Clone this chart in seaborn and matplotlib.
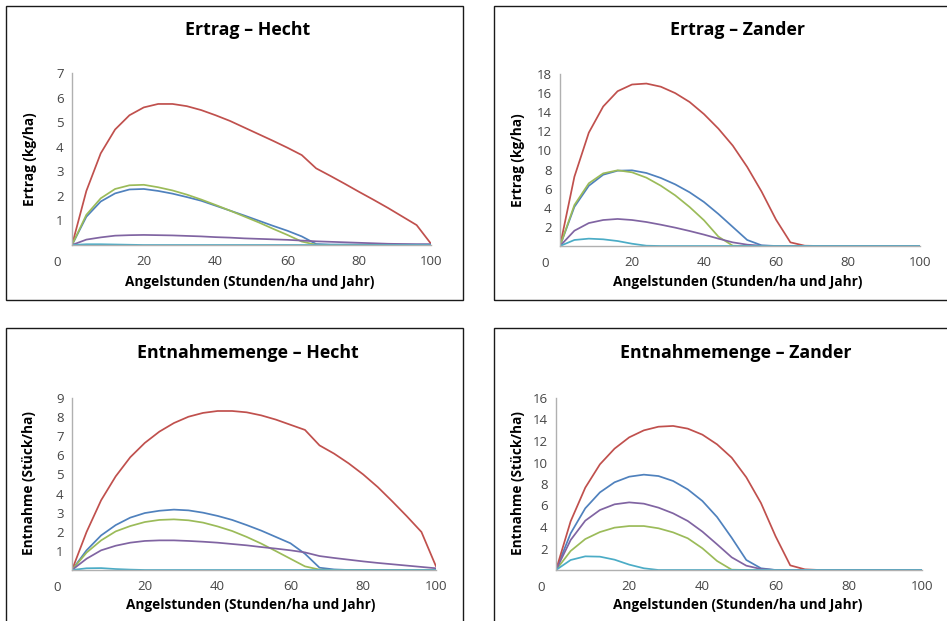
import numpy as np
import pandas as pd
import matplotlib
matplotlib.use("Agg")
import matplotlib.pyplot as plt
import matplotlib.transforms as mtransforms
from matplotlib.patches import Rectangle
import seaborn as sns

# ---- data -------------------------------------------------------------
hours = list(range(0, 101, 4))  # Angelstunden

series_names = ["S1", "S2", "S3", "S4", "S5"]
series_colors = ["#4F81BD", "#C0504D", "#9BBB59", "#8064A2", "#4BACC6"]

# Ertrag - Hecht (kg/ha)
eh_blue = [0, 1.15, 1.77, 2.10, 2.26, 2.28, 2.20, 2.09, 1.95, 1.80, 1.60, 1.40, 1.20,
           0.99, 0.78, 0.58, 0.35, 0.04, 0.02, 0.02, 0.02, 0.02, 0.02, 0.02, 0.02, 0.02]
eh_red = [0, 2.20, 3.73, 4.70, 5.28, 5.60, 5.74, 5.74, 5.65, 5.49, 5.28, 5.05, 4.78,
          4.51, 4.24, 3.96, 3.66, 3.12, 2.81, 2.49, 2.16, 1.84, 1.51, 1.16, 0.81, 0.05]
eh_green = [0, 1.23, 1.90, 2.28, 2.43, 2.45, 2.35, 2.22, 2.05, 1.85, 1.63, 1.40, 1.16,
            0.92, 0.66, 0.41, 0.14, 0.01, 0, 0, 0, 0, 0, 0, 0, 0]
eh_purple = [0, 0.22, 0.31, 0.38, 0.40, 0.41, 0.40, 0.39, 0.37, 0.35, 0.32, 0.30, 0.27,
             0.25, 0.23, 0.21, 0.18, 0.15, 0.13, 0.11, 0.09, 0.07, 0.05, 0.04, 0.03, 0.03]
eh_cyan = [0, 0.03, 0.03, 0.02, 0.01, 0, 0, 0, 0, 0, 0, 0, 0,
           0, 0, 0, 0, 0, 0, 0, 0, 0, 0, 0, 0, 0]

# Ertrag - Zander (kg/ha)
ez_blue = [0, 4.10, 6.30, 7.46, 7.88, 7.92, 7.64, 7.12, 6.45, 5.62, 4.60, 3.35, 1.99,
           0.63, 0.07, 0, 0, 0, 0, 0, 0, 0, 0, 0, 0, 0]
ez_red = [0, 7.25, 11.86, 14.60, 16.20, 16.90, 17.00, 16.67, 16.00, 15.07, 13.80, 12.28, 10.50,
          8.27, 5.69, 2.76, 0.38, 0.03, 0, 0, 0, 0, 0, 0, 0, 0]
ez_green = [0, 4.29, 6.56, 7.60, 7.92, 7.71, 7.15, 6.31, 5.30, 4.08, 2.69, 0.98, 0.03,
            0, 0, 0, 0, 0, 0, 0, 0, 0, 0, 0, 0, 0]
ez_purple = [0, 1.60, 2.40, 2.72, 2.83, 2.72, 2.51, 2.23, 1.92, 1.57, 1.19, 0.77, 0.38,
             0.14, 0.03, 0, 0, 0, 0, 0, 0, 0, 0, 0, 0, 0]
ez_cyan = [0, 0.63, 0.77, 0.70, 0.52, 0.24, 0.03, 0, 0, 0, 0, 0, 0,
           0, 0, 0, 0, 0, 0, 0, 0, 0, 0, 0, 0, 0]

# Entnahmemenge - Hecht (Stück/ha)
nh_blue = [0, 1.03, 1.81, 2.35, 2.74, 2.98, 3.10, 3.16, 3.12, 3.00, 2.83, 2.62, 2.35,
           2.06, 1.73, 1.40, 0.85, 0.12, 0.03, 0, 0, 0, 0, 0, 0, 0]
nh_red = [0, 1.99, 3.65, 4.90, 5.90, 6.65, 7.24, 7.69, 8.02, 8.22, 8.32, 8.32, 8.25,
          8.09, 7.87, 7.60, 7.33, 6.52, 6.09, 5.58, 5.00, 4.34, 3.59, 2.81, 1.99, 0.19]
nh_green = [0, 0.91, 1.55, 2.02, 2.30, 2.51, 2.62, 2.65, 2.60, 2.48, 2.28, 2.04, 1.73,
            1.38, 0.99, 0.59, 0.19, 0.02, 0, 0, 0, 0, 0, 0, 0, 0]
nh_purple = [0, 0.59, 1.03, 1.27, 1.43, 1.52, 1.55, 1.55, 1.52, 1.48, 1.43, 1.36, 1.29,
             1.20, 1.12, 1.03, 0.92, 0.73, 0.63, 0.54, 0.45, 0.37, 0.30, 0.23, 0.16, 0.09]
nh_cyan = [0, 0.09, 0.10, 0.05, 0.02, 0, 0, 0, 0, 0, 0, 0, 0,
           0, 0, 0, 0, 0, 0, 0, 0, 0, 0, 0, 0, 0]

# Entnahmemenge - Zander (Stück/ha)
nz_blue = [0, 3.41, 5.74, 7.22, 8.16, 8.68, 8.87, 8.74, 8.28, 7.50, 6.42, 4.93, 3.00,
           0.93, 0.16, 0, 0, 0, 0, 0, 0, 0, 0, 0, 0, 0]
nz_red = [0, 4.53, 7.66, 9.83, 11.29, 12.34, 12.99, 13.33, 13.40, 13.15, 12.59, 11.69, 10.45,
          8.62, 6.23, 3.13, 0.43, 0.06, 0, 0, 0, 0, 0, 0, 0, 0]
nz_green = [0, 1.77, 2.88, 3.53, 3.94, 4.09, 4.09, 3.88, 3.50, 2.95, 2.02, 0.84, 0.03,
            0, 0, 0, 0, 0, 0, 0, 0, 0, 0, 0, 0, 0]
nz_purple = [0, 2.79, 4.59, 5.58, 6.11, 6.29, 6.17, 5.80, 5.27, 4.56, 3.57, 2.39, 1.18,
             0.40, 0.09, 0, 0, 0, 0, 0, 0, 0, 0, 0, 0, 0]
nz_cyan = [0, 0.93, 1.27, 1.24, 0.96, 0.50, 0.16, 0, 0, 0, 0, 0, 0,
           0, 0, 0, 0, 0, 0, 0, 0, 0, 0, 0, 0, 0]

titles = ["Ertrag – Hecht", "Ertrag – Zander", "Entnahmemenge – Hecht", "Entnahmemenge – Zander"]
ylabels = ["Ertrag (kg/ha)", "Ertrag (kg/ha)", "Entnahme (Stück/ha)", "Entnahme (Stück/ha)"]
xlabel = "Angelstunden (Stunden/ha und Jahr)"
ymax = [7, 18, 9, 16]
ystep = [1, 2, 1, 2]
xtick_vals = [0, 20, 40, 60, 80, 100]

panels = [
    [eh_blue, eh_red, eh_green, eh_purple, eh_cyan],
    [ez_blue, ez_red, ez_green, ez_purple, ez_cyan],
    [nh_blue, nh_red, nh_green, nh_purple, nh_cyan],
    [nz_blue, nz_red, nz_green, nz_purple, nz_cyan],
]

# ---- figure -----------------------------------------------------------
sns.set_style("white")
plt.rcParams["font.family"] = ["Open Sans", "DejaVu Sans"]

W, H = 947, 621
fig = plt.figure(figsize=(W / 100, H / 100), dpi=100)

def fx(px):
    return px / W

def fy(py):
    return 1 - py / H

# axes pixel boxes: (x0, x100, ytop, ybottom)
axes_px = [(72, 431, 73, 245), (560, 920, 74, 246), (72, 436, 398, 570), (556, 922, 398, 570)]
boxes_px = [(6, 6, 463, 300), (494, 6, 960, 300), (6, 328, 463, 640), (494, 328, 960, 640)]
title_px = [(248, 30), (737, 30), (248, 353), (736, 353)]
ylabel_px = [(30, 159), (518, 160), (29, 483), (518, 483)]
xlabel_px = [(250, 282), (738, 282), (251, 605), (738, 605)]

for (bx0, by0, bx1, by1) in boxes_px:
    fig.patches.append(Rectangle((fx(bx0), fy(by1)), fx(bx1 - bx0), (by1 - by0) / H,
                                 transform=fig.transFigure, fill=False,
                                 edgecolor="#1a1a1a", linewidth=1.0))

for i in range(4):
    x0, x1, yt, yb = axes_px[i]
    ax = fig.add_axes([fx(x0), fy(yb), fx(x1 - x0), (yb - yt) / H])
    df = pd.DataFrame({
        "Angelstunden": hours * 5,
        "Wert": [v for s in panels[i] for v in s],
        "Serie": [n for n in series_names for _ in hours],
    })
    sns.lineplot(data=df, x="Angelstunden", y="Wert", hue="Serie",
                 palette=dict(zip(series_names, series_colors)),
                 hue_order=series_names, ax=ax, linewidth=1.25, legend=False,
                 estimator=None, sort=False)
    ax.set_xlim(0, 100)
    ax.set_ylim(0, ymax[i])
    ax.set_facecolor("none")
    for s in ["top", "right"]:
        ax.spines[s].set_visible(False)
    for s in ["left", "bottom"]:
        ax.spines[s].set_color("#b0b0b0")
        ax.spines[s].set_linewidth(1.0)
    yt_vals = list(range(0, ymax[i] + 1, ystep[i]))
    ax.set_yticks(yt_vals)
    ax.set_yticklabels([""] + [str(v) for v in yt_vals[1:]])
    ax.set_xticks(xtick_vals)
    ax.set_xticklabels([str(v) for v in xtick_vals])
    ax.tick_params(axis="both", direction="out", length=4, width=1.0, color="#b0b0b0",
                   labelsize=9.5, labelcolor="#454545", pad=2)
    ax.tick_params(axis="x", pad=3.5)
    # shift the "0" label to the left, like the original
    lbl0 = ax.get_xticklabels()[0]
    lbl0.set_transform(lbl0.get_transform() + mtransforms.ScaledTranslation(-15 / 100, -1 / 100, fig.dpi_scale_trans))
    ax.set_xlabel("")
    ax.set_ylabel("")
    ax.grid(False)
    ax.set_zorder(2)

    tx, ty = title_px[i]
    fig.text(fx(tx), fy(ty), titles[i], ha="center", va="center",
             fontsize=12.8, fontweight="bold", color="#000000")
    lx, ly = ylabel_px[i]
    fig.text(fx(lx), fy(ly), ylabels[i], ha="center", va="center", rotation=90,
             fontsize=9.8, fontweight="bold", color="#000000")
    xx, xy = xlabel_px[i]
    fig.text(fx(xx), fy(xy), xlabel, ha="center", va="center",
             fontsize=9.8, fontweight="bold", color="#000000")

fig.savefig("out.png", dpi=100)
